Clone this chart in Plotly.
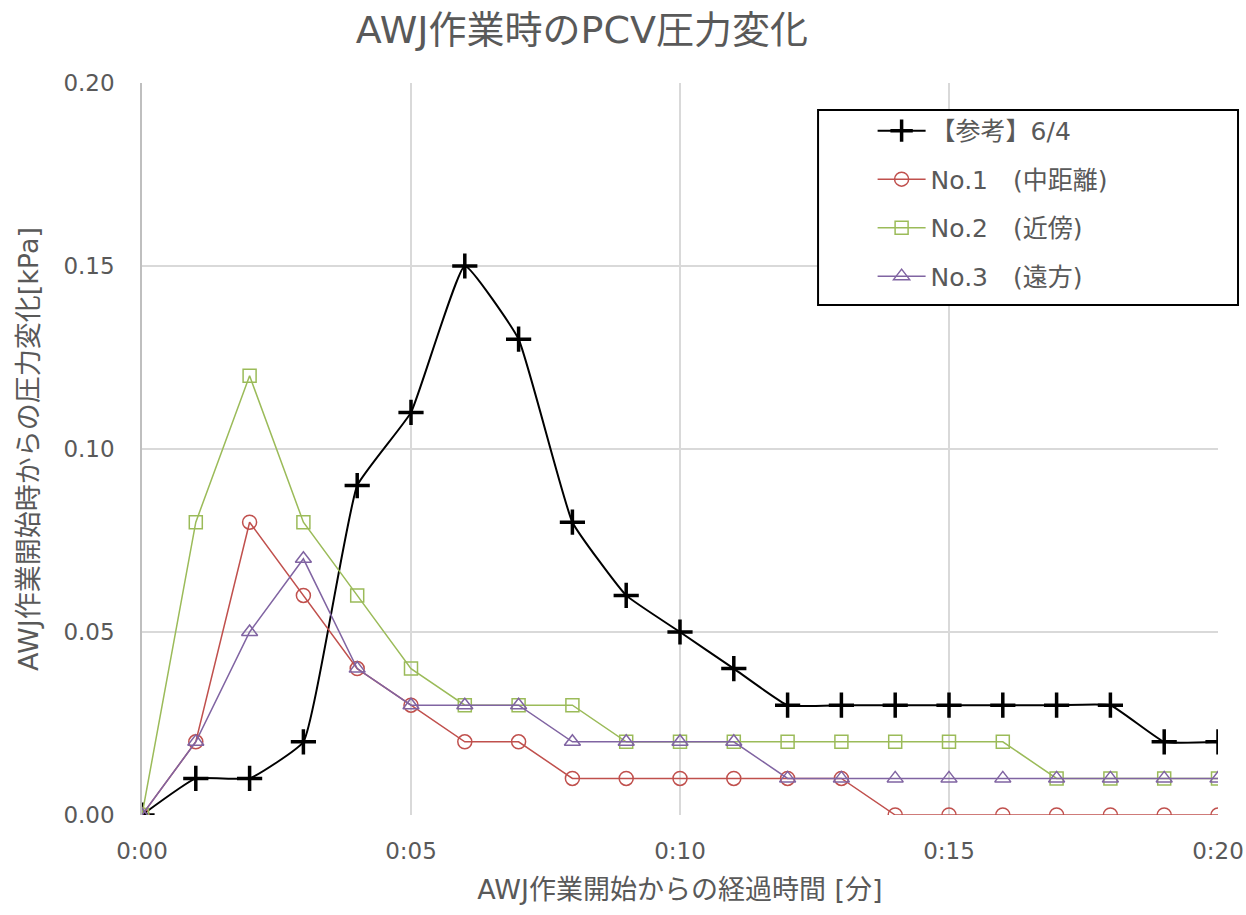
import plotly.graph_objects as go

minutes = list(range(0, 21))
ref_64 = [0, 0.01, 0.01, 0.02, 0.09, 0.11, 0.15, 0.13, 0.08, 0.06, 0.05, 0.04, 0.03, 0.03, 0.03, 0.03, 0.03, 0.03, 0.03, 0.02, 0.02]
no1 = [0, 0.02, 0.08, 0.06, 0.04, 0.03, 0.02, 0.02, 0.01, 0.01, 0.01, 0.01, 0.01, 0.01, 0, 0, 0, 0, 0, 0, 0]
no2 = [0, 0.08, 0.12, 0.08, 0.06, 0.04, 0.03, 0.03, 0.03, 0.02, 0.02, 0.02, 0.02, 0.02, 0.02, 0.02, 0.02, 0.01, 0.01, 0.01, 0.01]
no3 = [0, 0.02, 0.05, 0.07, 0.04, 0.03, 0.03, 0.03, 0.02, 0.02, 0.02, 0.02, 0.01, 0.01, 0.01, 0.01, 0.01, 0.01, 0.01, 0.01, 0.01]
names = ["【参考】6/4", "No.1　(中距離)", "No.2　(近傍)", "No.3　(遠方)"]
x_tickvals = [0, 5, 10, 15, 20]
x_ticktext = ["0:00", "0:05", "0:10", "0:15", "0:20"]
y_tickvals = [0, 0.05, 0.10, 0.15, 0.20]
y_ticktext = ["0.00", "0.05", "0.10", "0.15", "0.20"]

FONT = "DejaVu Sans, Noto Sans CJK JP, sans-serif"
GRAY = "#595959"

fig = go.Figure()
fig.add_trace(go.Scatter(
    x=minutes, y=ref_64, name=names[0], mode="lines+markers", legendgroup="a",
    line=dict(color="black", width=2, shape="spline", smoothing=0.35),
    marker=dict(symbol="cross-thin", size=18, color="black",
                line=dict(color="black", width=3.5)),
))
fig.add_trace(go.Scatter(
    x=minutes, y=no1, name=names[1], mode="lines+markers", legendgroup="b",
    line=dict(color="#c0504d", width=1.5),
    marker=dict(symbol="circle-open", size=14, color="#c0504d",
                line=dict(color="#c0504d", width=1.5)),
))
fig.add_trace(go.Scatter(
    x=minutes, y=no2, name=names[2], mode="lines+markers", legendgroup="c",
    line=dict(color="#9bbb59", width=1.5),
    marker=dict(symbol="square-open", size=13, color="#9bbb59",
                line=dict(color="#9bbb59", width=1.5)),
))
fig.add_trace(go.Scatter(
    x=minutes, y=no3, name=names[3], mode="lines+markers", legendgroup="d",
    line=dict(color="#8064a2", width=1.5),
    marker=dict(symbol="triangle-up-open", size=14, color="#8064a2",
                line=dict(color="#8064a2", width=1.5)),
))

# legend frame (white box with black border)
fig.add_shape(type="rect", xref="paper", yref="paper",
              x0=0.6283, x1=1.0186, y0=0.6967, y1=0.9631,
              line=dict(color="black", width=2), fillcolor="white", layer="above")

fig.update_layout(
    width=1246, height=915,
    margin=dict(l=142, r=28, t=83, b=100, autoexpand=False),
    paper_bgcolor="white", plot_bgcolor="white",
    font=dict(family=FONT, color=GRAY, size=23),
    title=dict(text="AWJ作業時のPCV圧力変化", x=0.467, xanchor="center",
               y=0.967, yanchor="middle", font=dict(size=38, color=GRAY, family=FONT)),
    showlegend=True,
    legend=dict(x=0.679, y=0.966, xanchor="left", yanchor="top",
                borderwidth=0, bgcolor="rgba(0,0,0,0)",
                font=dict(size=25, color=GRAY, family=FONT),
                itemwidth=48, tracegroupgap=13),
)
fig.update_xaxes(
    range=[0, 20], tickvals=x_tickvals, ticktext=x_ticktext,
    showgrid=True, gridcolor="#d9d9d9", gridwidth=1.5,
    showline=False, zeroline=False, ticks="", automargin=False,
    ticklabeloverflow="allow",
    tickfont=dict(size=23, color=GRAY), ticklabelstandoff=20,
    title=dict(text="AWJ作業開始からの経過時間 [分]", font=dict(size=27, color=GRAY), standoff=17),
)
fig.update_yaxes(
    range=[0, 0.20], tickvals=y_tickvals, ticktext=y_ticktext,
    showgrid=True, gridcolor="#d9d9d9", gridwidth=1.5,
    showline=True, linecolor="#bfbfbf", linewidth=1.5, zeroline=False, ticks="", automargin=False,
    tickfont=dict(size=23, color=GRAY), ticklabelstandoff=21,
    title=dict(text="AWJ作業開始時からの圧力変化[kPa]", font=dict(size=27, color=GRAY), standoff=17),
)

fig.write_html("out.html", config={"displayModeBar": False},
               post_script="document.body.style.margin='0';")
